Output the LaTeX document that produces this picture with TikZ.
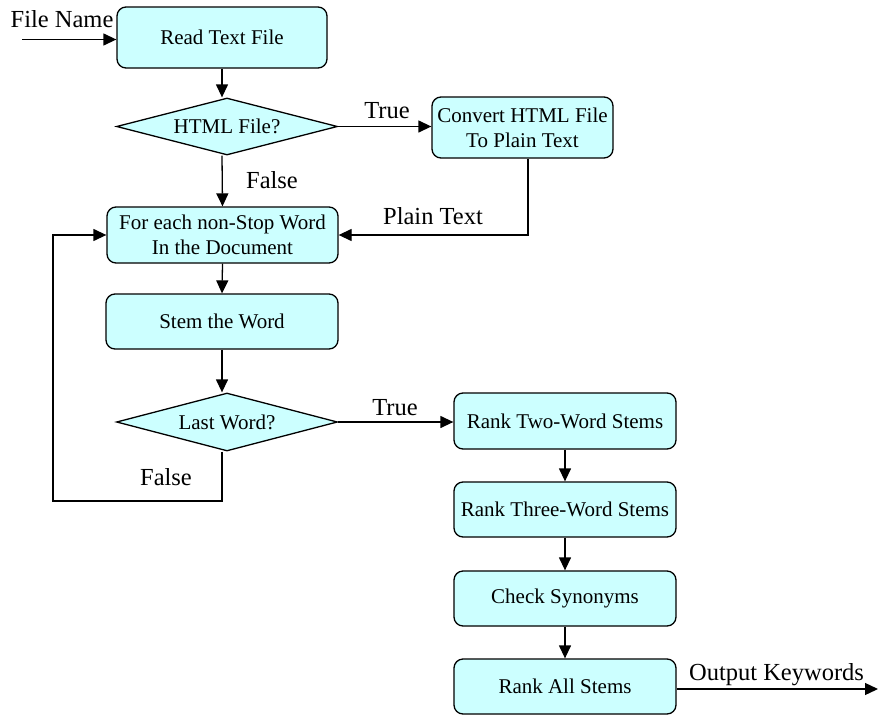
\documentclass[tikz,border=0pt]{standalone}
\usepackage{fontspec}
\setmainfont{Liberation Serif}
\usetikzlibrary{shapes.geometric,arrows.meta}
\definecolor{boxfill}{HTML}{CCFFFF}
\begin{document}
\begin{tikzpicture}[x=1pt,y=-1pt,
  every path/.style={line width=1.3pt},
  proc/.style={draw, fill=boxfill, rounded corners=9pt, align=center, inner sep=0pt,
    font=\fontsize{21}{25}\selectfont},
  decis/.style={draw, fill=boxfill, diamond, inner sep=0pt, aspect=3.9,
    minimum width=221pt, minimum height=57pt, font=\fontsize{21}{25}\selectfont},
  lbl/.style={font=\fontsize{24.5}{28}\selectfont, inner sep=0pt},
  arr/.style={-{Triangle[length=13pt,width=12pt]}}]
\useasboundingbox (0,0) rectangle (878,715);

\node[proc, minimum width=210pt, minimum height=61pt] (read) at (222,37.5) {Read Text File};
\node[decis] (html) at (227,126.5) {HTML File?};
\node[proc, minimum width=181pt, minimum height=61pt] (convert) at (522.5,127.5) {Convert HTML File\\To Plain Text};
\node[proc, minimum width=231pt, minimum height=56pt] (for) at (222.5,235) {For each non-Stop Word\\In the Document};
\node[proc, minimum width=232pt, minimum height=55pt] (stem) at (222,321.5) {Stem the Word};
\node[decis, minimum height=58pt] (last) at (227,422) {Last Word?};
\node[proc, minimum width=222pt, minimum height=56pt] (two) at (565,421) {Rank Two-Word Stems};
\node[proc, minimum width=222pt, minimum height=55pt] (three) at (565,509.5) {Rank Three-Word Stems};
\node[proc, minimum width=222pt, minimum height=55pt] (syn) at (565,598.5) {Check Synonyms};
\node[proc, minimum width=222pt, minimum height=55pt] (all) at (565,686.5) {Rank All Stems};

\coordinate (fn) at (22,39.5);
\coordinate (pt) at (528,235);
\coordinate (loopa) at (222,501);
\coordinate (loopb) at (53,501);
\coordinate (out) at (878,689);

\node[lbl, anchor=base] (fnl) at (62,27) {File Name};
\node[lbl, anchor=base] (t1) at (387,118) {True};
\node[lbl, anchor=base] (f1) at (272,188) {False};
\node[lbl, anchor=base] (ptl) at (433,224) {Plain Text};
\node[lbl, anchor=base] (t2) at (395,415) {True};
\node[lbl, anchor=base] (f2) at (166,485) {False};
\node[lbl, anchor=base] (outl) at (776.5,680) {Output Keywords};

\draw[arr] (fn) -- (fn -| read.west);
\draw[arr] (read.south) -- (read.south |- html.north);
\draw[arr] (html.east) -- (convert.west |- html.east);
\draw[arr] (read.south |- html.south) -- (for.north);
\draw[arr] (convert.south -| pt) -- (pt) -- (for.east);
\draw[arr] (for.south) -- (stem.north);
\draw[arr] (stem.south) -- (stem.south |- last.north);
\draw[arr] (last.east) -- (two.west |- last.east);
\draw[arr] (loopa |- last.south) -- (loopa) -- (loopb) |- (for.west);
\draw[arr] (two.south) -- (three.north);
\draw[arr] (three.south) -- (syn.north);
\draw[arr] (syn.south) -- (all.north);
\draw[arr] (all.east |- out) -- (out);
\end{tikzpicture}
\end{document}
